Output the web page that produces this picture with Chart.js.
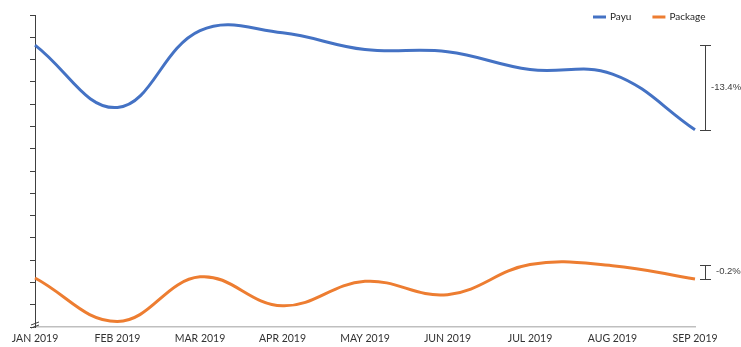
<!DOCTYPE html>
<html>
<head>
<meta charset="utf-8">
<script src="https://cdn.jsdelivr.net/npm/chart.js@4"></script>
<style>
  html, body { margin: 0; padding: 0; background: #fff; }
  #wrap { width: 741px; height: 347px; }
</style>
</head>
<body>
<div id="wrap"><canvas id="lineChart" width="741" height="347"></canvas></div>
<script>
// data (axis has no labels, units are arbitrary)
const months = ['JAN 2019', 'FEB 2019', 'MAR 2019', 'APR 2019', 'MAY 2019', 'JUN 2019', 'JUL 2019', 'AUG 2019', 'SEP 2019'];
const payu = [12.65, 9.85, 13.3, 13.2, 12.45, 12.35, 11.55, 11.35, 8.85];
const pkg = [2.2, 0.25, 2.25, 0.95, 2.05, 1.45, 2.8, 2.75, 2.15];
const seriesNames = ['Payu', 'Package'];
const seriesColors = ['#4472C4', '#ED7D31'];
// change brackets on the right: [from, to] and label
const payuRange = [12.65, 8.85];
const pkgRange = [2.8, 2.15];
const changeLabels = ['-13.4%', '-0.2%'];

// brackets + legend drawn on top
const extras = {
    id: 'extras',
    afterDraw(chart) {
        const ctx = chart.ctx;
        const y = chart.scales.y;
        const x = 706;
        ctx.save();
        ctx.strokeStyle = '#404040';
        ctx.lineWidth = 1;
        ctx.fillStyle = '#404040';
        ctx.font = '9.5px "Liberation Sans", Arial, sans-serif';
        ctx.textBaseline = 'middle';
        [payuRange, pkgRange].forEach(function (r, i) {
            const y1 = Math.round(y.getPixelForValue(r[0])) + 0.5;
            const y2 = Math.round(y.getPixelForValue(r[1])) + 0.5;
            ctx.beginPath();
            ctx.moveTo(x - 0.5, y1); ctx.lineTo(x - 0.5, y2);
            ctx.moveTo(x - 6, y1); ctx.lineTo(x + 5, y1);
            ctx.moveTo(x - 6, y2); ctx.lineTo(x + 5, y2);
            ctx.stroke();
            ctx.textAlign = 'left';
            ctx.fillText(changeLabels[i], i === 0 ? 711 : 716, (y1 + y2) / 2 - 1);
        });

        // y-axis break mark
        ctx.strokeStyle = '#404040';
        ctx.beginPath();
        ctx.moveTo(31, 325); ctx.lineTo(39, 322);
        ctx.moveTo(31, 328); ctx.lineTo(39, 325);
        ctx.stroke();

        // legend
        ctx.font = '10px Lato, "Open Sans", sans-serif';
        ctx.lineWidth = 3;
        let lx = 593;
        seriesNames.forEach(function (name, i) {
            ctx.strokeStyle = seriesColors[i];
            ctx.beginPath();
            ctx.moveTo(lx, 17); ctx.lineTo(lx + 13, 17);
            ctx.stroke();
            ctx.fillStyle = '#262626';
            ctx.fillText(name, lx + 17, 17);
            lx += 17 + ctx.measureText(name).width + 21;
        });
        ctx.restore();
    }
};

function renderLineChart() {
    const ctx = document.getElementById('lineChart').getContext('2d');
    new Chart(ctx, {
        type: 'line',
        data: {
            labels: months,
            datasets: [{
                label: seriesNames[0],
                data: payu,
                borderColor: seriesColors[0],
                borderWidth: 3,
                tension: 0.4,
                pointRadius: 0,
                fill: false
            }, {
                label: seriesNames[1],
                data: pkg,
                borderColor: seriesColors[1],
                borderWidth: 3,
                tension: 0.4,
                pointRadius: 0,
                fill: false
            }]
        },
        options: {
            responsive: false,
            animation: false,
            layout: { padding: { top: 15, right: 46, left: 0, bottom: 0 } },
            plugins: {
                legend: { display: false },
                tooltip: { enabled: false }
            },
            scales: {
                x: {
                    offset: false,
                    grid: { display: false, drawTicks: false },
                    border: { color: '#bfbfbf', width: 1.5 },
                    ticks: {
                        color: '#333333',
                        font: { family: 'Lato, "Open Sans", sans-serif', size: 10.5 },
                        maxRotation: 0,
                        autoSkip: false,
                        padding: 5
                    },
                    afterFit: function (scale) { scale.height = 20; }
                },
                y: {
                    min: 0,
                    max: 14,
                    grid: { drawOnChartArea: false, drawTicks: true, tickLength: 5, color: '#404040' },
                    border: { color: '#404040', width: 1 },
                    ticks: { stepSize: 1, callback: function () { return ''; } },
                    afterFit: function (scale) { scale.width = 35; }
                }
            }
        },
        plugins: [extras]
    });
}

renderLineChart();
</script>
</body>
</html>
